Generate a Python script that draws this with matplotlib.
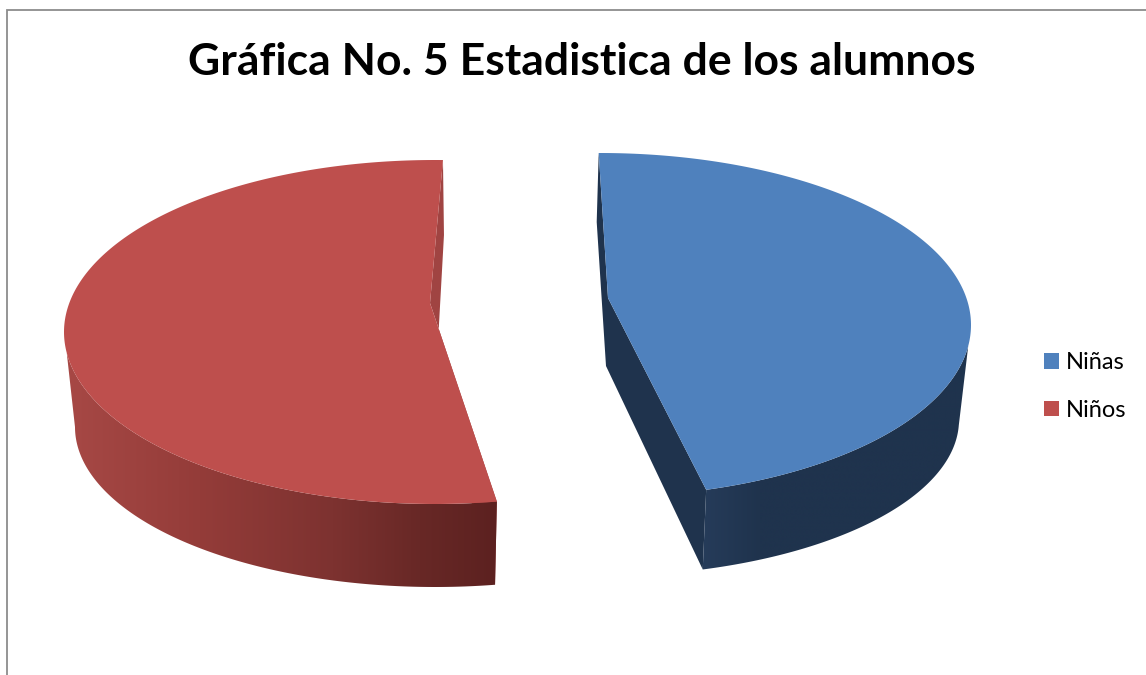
import matplotlib
matplotlib.use('Agg')

import numpy as np
import matplotlib.pyplot as plt
from matplotlib.patches import Polygon, Rectangle, Patch

title = "Gráfica No. 5 Estadistica de los alumnos"
labels = ["Niñas", "Niños"]
values = [12, 14]

colors = ['#4F81BD', '#BE4F4D']
face_colors = ['#1F334D', '#A04442']
# side shading, x position in px -> colour
side_x = [[701, 760, 975], [60, 200, 333, 420, 497]]
side_rgb = [
    [(38, 60, 90), (31, 51, 77), (31, 51, 77)],
    [(168, 73, 70), (148, 60, 57), (125, 50, 48), (104, 40, 38), (92, 33, 32)],
]

# the pie is drawn in picture pixels, everything below is layout
W, H = 1146, 675
SWEEP = 354.4
start_angle = [-0.2, 170.4]
top_ell = [(600, 325, 371, 172), (435, 332, 371, 172)]
bot_ell = [(600, 420, 359, 156), (435, 427, 360, 160)]
apex = [(608, 298), (430, 303)]
back_drop = [(-2, 69), (1, 75)]
apex_drop = [(-2, 68), (6, 75)]
# rim / bottom angle where the outline leaves the pie (silhouette)
sil_top = [97, 263]
sil_bot = [92, 270]


def ell_pts(ell, th):
    cx, cy, rx, ry = ell
    t = np.radians(th)
    return np.column_stack([cx + rx * np.sin(t), cy - ry * np.cos(t)])


fig = plt.figure(figsize=(W / 100, H / 100), dpi=100)
ax = fig.add_axes([0, 0, 1, 1])
ax.set_xlim(0, W)
ax.set_ylim(H, 0)
ax.axis('off')

ax.add_patch(Rectangle((6.5, 9.5), W + 20, H + 20, fc='white', ec='#8c8c8c', lw=1.3))

total = sum(values)
handles = []
for i in range(len(values)):
    a0 = start_angle[i]
    a1 = a0 + SWEEP * values[i] / total
    arc = ell_pts(top_ell[i], np.linspace(a0, a1, 240))
    corner_back = arc[0] if i == 0 else arc[-1]
    corner_front = arc[-1] if i == 0 else arc[0]
    ap = np.array(apex[i], dtype=float)

    # cut face seen from the inside
    ax.add_patch(Polygon([corner_back, corner_back + back_drop[i], ap + apex_drop[i],
                          ell_pts(bot_ell[i], [a1 if i == 0 else a0])[0], corner_front, ap],
                         fc=face_colors[i], ec='none', zorder=2))

    # outer wall with the shading running left to right
    if i == 0:
        wall_top = ell_pts(top_ell[i], np.linspace(sil_top[i], a1, 160))
        wall_bot = ell_pts(bot_ell[i], np.linspace(a1, sil_bot[i], 160))
    else:
        wall_top = ell_pts(top_ell[i], np.linspace(a0, sil_top[i], 160))
        wall_bot = ell_pts(bot_ell[i], np.linspace(sil_bot[i], a0, 160))
    wall = Polygon(np.vstack([wall_top, wall_bot]), fc='none', ec='none', zorder=3)
    ax.add_patch(wall)
    xs = np.arange(side_x[i][0], side_x[i][-1] + 1)
    rgb = np.array(side_rgb[i], dtype=float)
    strip = np.stack([np.interp(xs, side_x[i], rgb[:, c]) for c in range(3)], axis=-1) / 255
    im = ax.imshow(strip[np.newaxis, :, :], extent=(xs[0], xs[-1], 600, 300), aspect='auto',
                   interpolation='bilinear', zorder=3)
    im.set_clip_path(wall)

    # top surface
    ax.add_patch(Polygon(np.vstack([ap, arc]), fc=colors[i], ec='none', zorder=4))
    handles.append(Patch(fc=colors[i], ec='none', label=labels[i]))

ax.set_xlim(0, W)
ax.set_ylim(H, 0)

ax.text(582, 62, title, fontsize=32, fontweight='bold', family='Lato', color='black',
        ha='center', va='center')

ax.legend(handles=handles, loc='center left', bbox_to_anchor=(1044, 386.5),
          bbox_transform=ax.transData, frameon=False, borderaxespad=0, borderpad=0,
          prop={'family': 'Lato', 'size': 17}, handlelength=0.64, handleheight=0.64,
          handletextpad=0.3, labelspacing=1.13)

fig.savefig('out.png', dpi=100)
plt.close()
